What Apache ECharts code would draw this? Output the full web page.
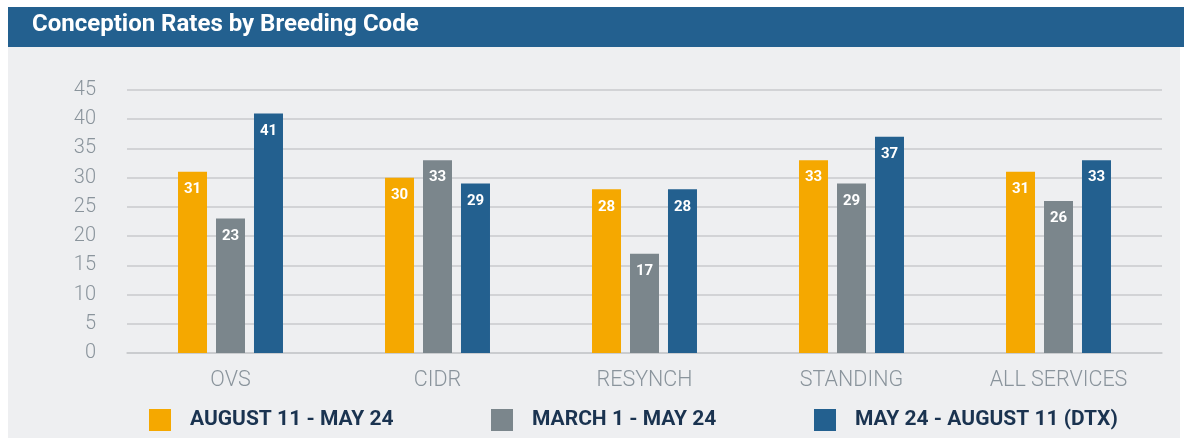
<!DOCTYPE html>
<html><head><meta charset="utf-8">
<script src="https://cdn.jsdelivr.net/npm/echarts@6/dist/echarts.min.js"></script>
<style>html,body{margin:0;padding:0;background:#fff}#c{width:1184px;height:438px}</style>
</head><body><div id="c"></div>
<script>
const title = 'Conception Rates by Breeding Code';
const categories = ['OVS', 'CIDR', 'RESYNCH', 'STANDING', 'ALL SERVICES'];
const seriesNames = ['AUGUST 11 - MAY 24', 'MARCH 1 - MAY 24', 'MAY 24 - AUGUST 11 (DTX)'];
const aug11May24 = [31, 30, 28, 33, 31];
const mar1May24 = [23, 33, 17, 29, 26];
const may24Aug11 = [41, 29, 28, 37, 33];
const yTicks = [0, 5, 10, 15, 20, 25, 30, 35, 40, 45];
const colors = ['#f5a800', '#7b868c', '#23608f'];

const chart = echarts.init(document.getElementById('c'));
const values = [aug11May24, mar1May24, may24Aug11];
const legendLeft = [149, 491, 814];
chart.setOption({
  animation: false,
  textStyle: {fontFamily: 'Roboto'},
  graphic: [
    {type: 'rect', shape: {x: 8, y: 7, width: 1176, height: 40}, style: {fill: '#23608f'}, z: -10},
    {type: 'rect', shape: {x: 8, y: 47, width: 1172, height: 391}, style: {fill: '#eeeff1'}, z: -10},
    {type: 'text', left: 32, top: 13, style: {text: title, fill: '#ffffff', font: 'bold 24px Roboto'}}
  ],
  grid: {left: 127, right: 22, top: 90, bottom: 85, containLabel: false},
  legend: seriesNames.map((n, i) => ({
    top: 409, left: legendLeft[i],
    itemWidth: 22, itemHeight: 22,
    icon: 'rect', padding: 0,
    textStyle: {fontSize: 21, fontWeight: 'bold', color: '#1a3350', padding: [0, 0, 0, 14], fontFamily: 'Roboto'},
    data: [n]
  })),
  xAxis: {
    type: 'category', data: categories,
    axisLine: {show: true, lineStyle: {color: '#c8cacd', width: 1.5}},
    axisTick: {show: false},
    axisLabel: {fontSize: 21.5, color: '#8a949c', margin: 17, fontWeight: 300}
  },
  yAxis: {
    type: 'value', min: 0, max: 45, interval: 5,
    axisLine: {show: false}, axisTick: {show: false},
    splitLine: {lineStyle: {color: '#c8cacd', width: 1.5}},
    axisLabel: {fontSize: 20, color: '#8a949c', margin: 31, fontWeight: 300,
      formatter: v => yTicks.includes(v) ? String(v) : ''}
  },
  series: seriesNames.map((n, i) => ({
    name: n, type: 'bar', data: values[i],
    barWidth: 29, barGap: '31%',
    itemStyle: {color: colors[i]},
    label: {show: true, position: 'insideTop', distance: 10, color: '#fff', fontSize: 15, fontWeight: 'bold'}
  }))
});
</script></body></html>
